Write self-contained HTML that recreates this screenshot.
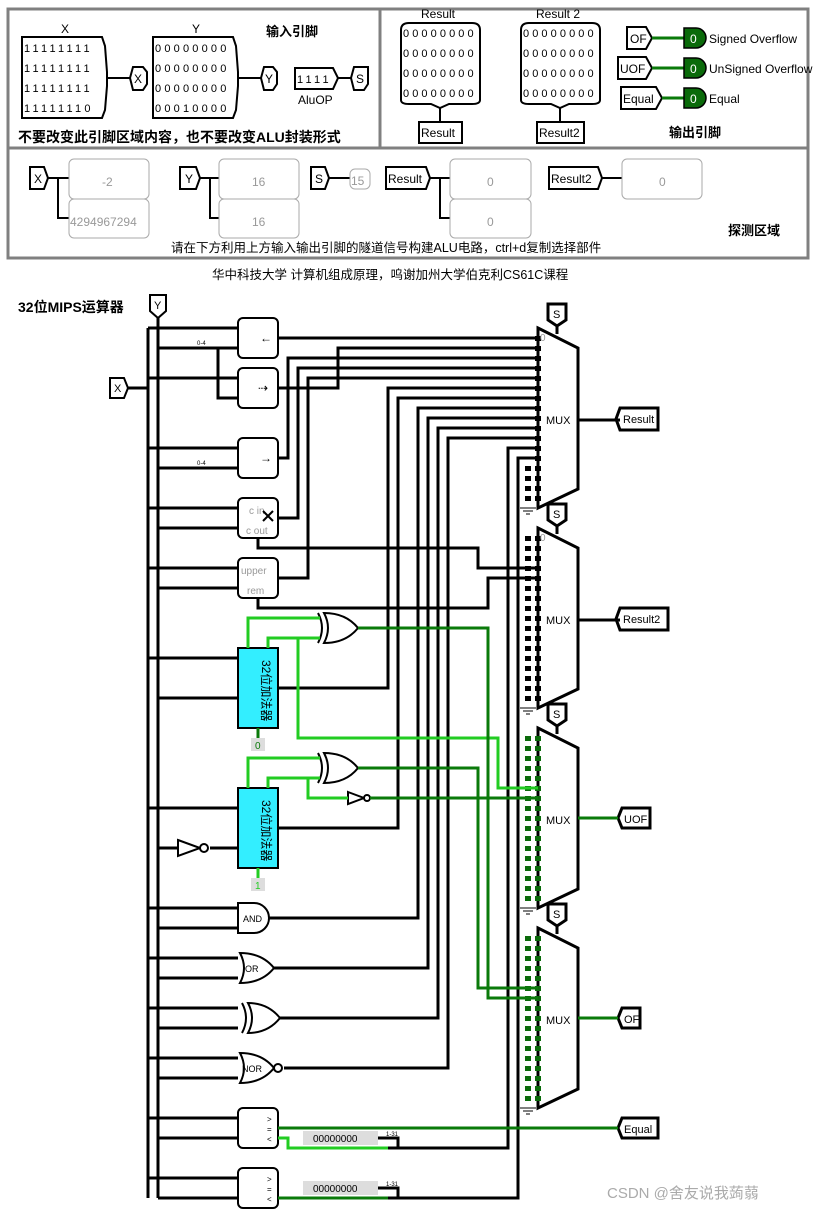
<!DOCTYPE html>
<html><head><meta charset="utf-8"><style>
html,body{margin:0;padding:0;background:#fff}
svg{display:block}
text{font-family:"Liberation Sans","Noto Sans CJK SC",sans-serif}
</style></head><body>
<svg width="815" height="1213" viewBox="0 0 815 1213" xmlns="http://www.w3.org/2000/svg">
<!-- TOP PANELS -->
<g fill="none" stroke="#808080" stroke-width="3">
<rect x="8" y="9" width="800" height="249"/>
<line x1="8" y1="148" x2="808" y2="148"/>
<line x1="380" y1="9" x2="380" y2="148"/>
</g>
<g font-size="12" fill="#000">
<text x="61" y="33">X</text><text x="192" y="33">Y</text>
<text x="266" y="36" font-weight="bold" font-size="13">输入引脚</text>
</g>
<g fill="none" stroke="#000" stroke-width="2">
<path d="M22 37H102L105 46 107 72 107 86 105 110 102 118H22Z"/>
<path d="M153 37H233L236 46 238 72 238 86 236 110 233 118H153Z"/>
<polyline points="107,78 130,78"/><polyline points="238,78 261,78"/>
<path d="M133 67H143L147 72 147 84 143 90H133L130 78Z"/>
<path d="M264 67H273L277 72 277 84 273 90H264L261 78Z"/>
<path d="M295 68H333L338 78 333 89H295Z"/><line x1="338" y1="78" x2="351" y2="78"/>
<path d="M354 67H368V84L364 90H354L351 78Z"/>
</g>
<g font-family="Liberation Mono,monospace" font-size="11" fill="#000" letter-spacing="3.2">
<text x="24" y="52">11111111</text><text x="24" y="72">11111111</text><text x="24" y="92">11111111</text><text x="24" y="112">11111110</text>
<text x="155" y="52">00000000</text><text x="155" y="72">00000000</text><text x="155" y="92">00000000</text><text x="155" y="112">00010000</text>
<text x="297" y="83">1111</text>
</g>
<g font-size="12"><text x="134" y="83">X</text><text x="265" y="83">Y</text><text x="356" y="83">S</text><text x="298" y="104">AluOP</text></g>
<text x="18" y="142" font-size="14" font-weight="bold">不要改变此引脚区域内容，也不要改变ALU封装形式</text>
<!-- right top -->
<g fill="none" stroke="#000" stroke-width="2">
<path d="M401 30Q401 23 409 23H472Q480 23 480 30V100Q480 104 472 104H449L440 108 431 104H409Q401 104 401 100Z"/>
<path d="M521 30Q521 23 529 23H592Q600 23 600 30V100Q600 104 592 104H569L560 108 551 104H529Q521 104 521 100Z"/>
<line x1="440" y1="108" x2="440" y2="122"/><line x1="560" y1="108" x2="560" y2="122"/>
<rect x="419" y="122" width="43" height="21"/><rect x="537" y="122" width="47" height="21"/>
<path d="M627 27H646L652 38 646 49H627Z"/>
<path d="M618 57H646L652 68 646 79H618Z"/>
<path d="M621 87H656L662 98 656 109H621Z"/>
</g>
<g font-size="12" fill="#000">
<text x="421" y="18">Result</text><text x="536" y="18">Result 2</text>
</g>
<g font-family="Liberation Mono,monospace" font-size="11" fill="#000" letter-spacing="3.1">
<text x="403" y="37">00000000</text><text x="403" y="57">00000000</text><text x="403" y="77">00000000</text><text x="403" y="97">00000000</text>
<text x="523" y="37">00000000</text><text x="523" y="57">00000000</text><text x="523" y="77">00000000</text><text x="523" y="97">00000000</text>
</g>
<g font-size="12"><text x="421" y="137">Result</text><text x="539" y="137">Result2</text>
<text x="630" y="43">OF</text><text x="620" y="73">UOF</text><text x="623" y="103">Equal</text>
<text x="709" y="43">Signed Overflow</text><text x="709" y="73">UnSigned Overflow</text><text x="709" y="103">Equal</text></g>
<g stroke="#0a7a0a" stroke-width="3"><line x1="652" y1="38" x2="684" y2="38"/><line x1="652" y1="68" x2="684" y2="68"/><line x1="662" y1="98" x2="684" y2="98"/></g>
<g fill="#0a6a0a" stroke="#000" stroke-width="1.5">
<path d="M684 28H696A10 10 0 0 1 696 48H684Z"/><path d="M684 58H696A10 10 0 0 1 696 78H684Z"/><path d="M684 88H696A10 10 0 0 1 696 108H684Z"/>
</g>
<g fill="#fff" font-size="12"><text x="690" y="43">0</text><text x="690" y="73">0</text><text x="690" y="103">0</text></g>
<text x="669" y="137" font-size="13" font-weight="bold">输出引脚</text>
<!-- probe area -->
<g fill="none" stroke="#000" stroke-width="2">
<path d="M30 167H44L48 178 44 189H30Z"/>
<path d="M180 167H196L200 178 196 189H180Z"/>
<path d="M311 167H325L329 178 325 189H311Z"/>
<path d="M386 167H426L430 178 426 189H386Z"/>
<path d="M549 167H598L602 178 598 189H549Z"/>
<polyline points="48,178 69,178"/><polyline points="58,178 58,218 69,218"/>
<polyline points="200,178 219,178"/><polyline points="210,178 210,218 219,218"/>
<polyline points="329,178 350,178"/>
<polyline points="430,178 450,178"/><polyline points="440,178 440,218 450,218"/>
<polyline points="602,178 622,178"/>
</g>
<g fill="none" stroke="#aaa" stroke-width="1">
<rect x="69" y="159" width="80" height="40" rx="5"/><rect x="69" y="199" width="80" height="39" rx="5"/>
<rect x="219" y="159" width="80" height="40" rx="5"/><rect x="219" y="199" width="80" height="39" rx="5"/>
<rect x="350" y="169" width="20" height="20" rx="5"/>
<rect x="450" y="159" width="81" height="40" rx="5"/><rect x="450" y="199" width="81" height="39" rx="5"/>
<rect x="622" y="159" width="80" height="40" rx="5"/>
</g>
<g font-size="12" fill="#000"><text x="34" y="183">X</text><text x="185" y="183">Y</text><text x="315" y="183">S</text><text x="388" y="183">Result</text><text x="551" y="183">Result2</text></g>
<g font-size="12" fill="#999"><text x="102" y="186">-2</text><text x="70" y="226">4294967294</text><text x="252" y="186">16</text><text x="252" y="226">16</text><text x="351" y="185">15</text><text x="487" y="186">0</text><text x="487" y="226">0</text><text x="659" y="186">0</text></g>
<text x="728" y="235" font-size="13" font-weight="bold">探测区域</text>
<text x="171" y="252" font-size="12.5">请在下方利用上方输入输出引脚的隧道信号构建ALU电路，ctrl+d复制选择部件</text>
<text x="212" y="279" font-size="12.5">华中科技大学 计算机组成原理，呜谢加州大学伯克利CS61C课程</text>

<!-- MAIN CIRCUIT -->
<text x="18" y="312" font-size="14" font-weight="bold">32位MIPS运算器</text>
<g fill="none" stroke="#000" stroke-width="2">
<path d="M150 295H166V311L158 318 150 311Z"/>
<path d="M110 378H124L128 388 124 398H110Z"/>
</g>
<text x="154" y="309" font-size="11">Y</text><text x="114" y="392" font-size="11">X</text>
<g fill="none" stroke="#000" stroke-width="3">
<line x1="148" y1="328" x2="148" y2="1198"/><line x1="158" y1="318" x2="158" y2="1198"/>
<line x1="128" y1="388" x2="148" y2="388"/>
<path d="M148 328H238M158 348H238M148 378H238M218 348V398H238"/>
<path d="M148 448H238M158 468H238M148 508H238M158 528H238M148 568H238M158 588H238"/>
<path d="M148 658H238M158 698H238M148 808H238M158 848H178M210 848H238"/>
<path d="M148 908H238M158 928H238M148 958H238M158 978H238M148 1008H238M158 1028H238M148 1058H238M158 1078H238"/>
<path d="M148 1118H238M158 1138H238M148 1178H238M158 1198H238"/>
<path d="M278 338H538M278 388H338V348H538M278 458H288V358H538M278 518H298V368H538M278 578H308V378H538"/>
<path d="M278 688H388V388H538M278 828H398V398H538"/>
<path d="M268 918H418V408H538M272 968H428V418H538M278 1018H438V428H538M284 1068H448V438H538"/>
<path d="M388 1148H508V448H538M388 1198H518V458H538"/>
<path d="M258 538V548H478V568H538M258 598V608H488V578H538"/>
<path d="M578 420H620M578 620H620"/>
<path d="M538 328L578 348V489L538 508Z"/>
<path d="M538 528L578 548V689L538 708Z"/>
<path d="M538 728L578 748V889L538 908Z"/>
<path d="M538 928L578 948V1089L538 1108Z"/>
<path d="M548 304H566V320L557 326 548 320Z"/><path d="M548 504H566V520L557 526 548 520Z"/><path d="M548 704H566V720L557 726 548 720Z"/><path d="M548 904H566V920L557 926 548 920Z"/>
<path d="M620 408H658V430H620L616 419Z"/><path d="M620 608H668V630H620L616 619Z"/>
<path d="M622 808H650V828H622L618 818Z"/><path d="M622 1008H640V1028H622L618 1018Z"/><path d="M622 1118H658V1138H622L618 1128Z"/>
</g>
<g stroke="#000" stroke-width="3"><line x1="557" y1="326" x2="557" y2="334"/><line x1="557" y1="526" x2="557" y2="534"/><line x1="557" y1="726" x2="557" y2="734"/><line x1="557" y1="926" x2="557" y2="934"/></g>
<g stroke="#000" stroke-width="6" stroke-dasharray="5 5">
<line x1="538" y1="336" x2="538" y2="502"/><line x1="528" y1="466" x2="528" y2="502"/>
<line x1="538" y1="536" x2="538" y2="702"/><line x1="528" y1="536" x2="528" y2="702"/>
</g>
<g stroke="#0a6a0a" stroke-width="6" stroke-dasharray="5 5">
<line x1="538" y1="736" x2="538" y2="902"/><line x1="528" y1="736" x2="528" y2="902"/>
<line x1="538" y1="936" x2="538" y2="1102"/><line x1="528" y1="936" x2="528" y2="1102"/>
</g>
<g stroke="#000" stroke-width="1" fill="none"><path d="M520 508H536M523 511H533M526 514H530M520 708H536M523 711H533M526 714H530M520 908H536M523 911H533M526 914H530M520 1108H536M523 1111H533M526 1114H530"/></g>
<g font-size="11"><text x="546" y="424">MUX</text><text x="546" y="624">MUX</text><text x="546" y="824">MUX</text><text x="546" y="1024">MUX</text>
<text x="553" y="318">S</text><text x="553" y="518">S</text><text x="553" y="718">S</text><text x="553" y="918">S</text>
<text x="623" y="423">Result</text><text x="623" y="623">Result2</text><text x="624" y="823">UOF</text><text x="624" y="1023">OF</text><text x="624" y="1133">Equal</text>
<text x="540" y="341" fill="#999" font-size="10">0</text><text x="540" y="541" fill="#999" font-size="10">0</text></g>
<g fill="#fff" stroke="#000" stroke-width="2">
<rect x="238" y="318" width="40" height="40" rx="5"/><rect x="238" y="368" width="40" height="40" rx="5"/>
<rect x="238" y="438" width="40" height="40" rx="5"/><rect x="238" y="498" width="40" height="40" rx="5"/>
<rect x="238" y="558" width="40" height="40" rx="5"/>
<rect x="238" y="1108" width="40" height="40" rx="5"/><rect x="238" y="1168" width="40" height="40" rx="5"/>
</g>
<g fill="#33eeff" stroke="#000" stroke-width="2"><rect x="238" y="648" width="40" height="80"/><rect x="238" y="788" width="40" height="80"/></g>
<g font-size="12" fill="#000">
<text x="258" y="660" transform="rotate(90 258 660)" dy="-4">32位加法器</text>
<text x="258" y="800" transform="rotate(90 258 800)" dy="-4">32位加法器</text>
<text x="260" y="342">←</text><text x="258" y="392">⇢</text><text x="260" y="462">→</text>
</g>
<g font-size="10" fill="#999"><text x="249" y="514">c in</text><text x="246" y="534">c out</text><text x="241" y="574">upper</text><text x="247" y="594">rem</text></g>
<g stroke="#000" stroke-width="2"><line x1="263" y1="511" x2="273" y2="521"/><line x1="273" y1="511" x2="263" y2="521"/></g>
<g font-size="6"><text x="197" y="345">0-4</text><text x="197" y="465">0-4</text></g>
<g font-size="8"><text x="267" y="1122">&gt;</text><text x="267" y="1132">=</text><text x="267" y="1142">&lt;</text><text x="267" y="1182">&gt;</text><text x="267" y="1192">=</text><text x="267" y="1202">&lt;</text></g>
<g fill="#fff" stroke="#000" stroke-width="2">
<path d="M238 903H254A15 15 0 0 1 254 933H238Z"/>
<path d="M240 953Q262 953 274 968Q262 983 240 983Q248 968 240 953Z"/>
<path d="M248 1003Q268 1003 280 1018Q268 1033 248 1033Q256 1018 248 1003Z"/><path d="M242 1003Q250 1018 242 1033" fill="none"/>
<path d="M240 1053Q262 1053 274 1068Q262 1083 240 1083Q248 1068 240 1053Z"/><circle cx="278" cy="1068" r="4"/>
<path d="M324 613Q346 613 358 628Q346 643 324 643Q332 628 324 613Z"/><path d="M318 613Q326 628 318 643" fill="none"/>
<path d="M324 753Q346 753 358 768Q346 783 324 783Q332 768 324 753Z"/><path d="M318 753Q326 768 318 783" fill="none"/>
<path d="M178 840L200 848 178 856Z"/><circle cx="204" cy="848" r="4"/>
<path d="M348 792L364 798 348 804Z"/><circle cx="367" cy="798" r="3"/>
</g>
<g font-size="9"><text x="243" y="922">AND</text><text x="245" y="972">OR</text><text x="242" y="1072">NOR</text></g>
<g fill="none" stroke="#22cc22" stroke-width="3">
<path d="M248 648V618H320M268 648V638H320M298 638V738H498V788H538"/>
<path d="M248 788V758H320M268 788V778H320M308 778V798H348"/>
<path d="M278 1138H288V1148H388"/>
<path d="M258 868V878"/>
</g>
<g fill="none" stroke="#0a7a0a" stroke-width="3">
<path d="M358 628H488V998H538M358 768H478V988H538M370 798H538M578 818H618M578 1018H618M278 1128H618"/>
<path d="M278 1198H388M258 728V738"/>
</g>
<g fill="#ddd"><rect x="251" y="738" width="14" height="13"/><rect x="251" y="878" width="14" height="13"/><rect x="303" y="1131" width="75" height="14"/><rect x="303" y="1181" width="75" height="14"/></g>
<g font-size="10"><text x="255" y="749" fill="#0a7a0a">0</text><text x="255" y="889" fill="#22cc22">1</text><text x="313" y="1142">00000000</text><text x="313" y="1192">00000000</text><text x="386" y="1136" font-size="6">1-31</text><text x="386" y="1186" font-size="6">1-31</text></g>
<g stroke="#000" stroke-width="3"><path d="M378 1138H398V1148M378 1188H398V1198" fill="none"/></g>
<text x="607" y="1198" font-size="15" fill="#aaa">CSDN @舍友说我蒟蒻</text>
</svg>
</body></html>
